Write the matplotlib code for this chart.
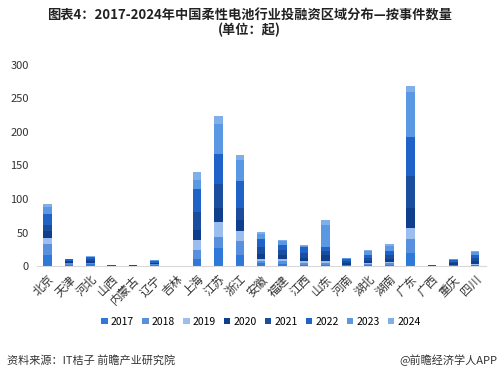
import matplotlib
matplotlib.use("Agg")
import matplotlib.pyplot as plt
import numpy as np

plt.rcParams['font.family'] = ['Noto Sans CJK SC', 'DejaVu Sans']

regions = ["北京", "天津", "河北", "山西", "内蒙古", "辽宁", "吉林", "上海", "江苏", "浙江",
           "安徽", "福建", "江西", "山东", "河南", "湖北", "湖南", "广东", "广西", "重庆", "四川"]
years = ["2017", "2018", "2019", "2020", "2021", "2022", "2023", "2024"]

v2017 = [17, 2, 3, 0, 0, 2, 0, 11, 27, 16, 4, 3, 2, 2, 1, 2, 2, 19, 0, 1, 1]
v2018 = [16, 2, 1, 0, 0, 1, 0, 13, 16, 21, 3, 4, 3, 3, 0, 1, 2, 21, 0, 0, 1]
v2019 = [9, 1, 1, 0, 0, 0, 0, 15, 23, 16, 3, 3, 2, 3, 0, 1, 2, 16, 0, 0, 1]
v2020 = [10, 2, 3, 0, 1, 1, 0, 15, 20, 16, 8, 6, 5, 8, 4, 4, 5, 31, 0, 3, 4]
v2021 = [9, 1, 3, 1, 0, 1, 0, 27, 36, 18, 10, 8, 7, 6, 3, 4, 5, 47, 2, 2, 5]
v2022 = [17, 2, 2, 0, 1, 2, 0, 34, 45, 40, 12, 7, 9, 6, 3, 5, 6, 58, 0, 3, 4]
v2023 = [10, 1, 1, 0, 0, 2, 0, 13, 45, 31, 8, 6, 2, 33, 1, 5, 8, 68, 0, 1, 5]
v2024 = [4, 0, 1, 0, 0, 0, 0, 12, 12, 8, 3, 2, 1, 7, 0, 2, 3, 8, 0, 0, 1]

series = [v2017, v2018, v2019, v2020, v2021, v2022, v2023, v2024]
colors = ["#2e78d8", "#5890dd", "#9cbeee", "#0f3f8c", "#1b4d9e", "#1f63c9", "#5b98e4", "#80aeea"]

fig = plt.figure(figsize=(4.99, 3.79), dpi=100)
ax = fig.add_axes([0.074, 0.298, 0.899, 0.531])

x = np.arange(len(regions))
bottom = np.zeros(len(regions))
for yr, vals, c in zip(years, series, colors):
    vals = np.array(vals, dtype=float)
    ax.bar(x, vals, width=0.4, bottom=bottom, color=c, label=yr, linewidth=0)
    bottom += vals

ax.set_xlim(-0.5, len(regions) - 0.5)
ax.set_ylim(0, 300)
ax.set_yticks([0, 50, 100, 150, 200, 250, 300])
ax.set_xticks(x)
ax.set_xticklabels(regions, rotation=45, ha='right', rotation_mode='anchor', fontsize=8.5, color='#333333')
ax.tick_params(axis='y', labelsize=8, colors='#333333', length=0, pad=6)
ax.tick_params(axis='x', length=0, pad=5)
for s in ['top', 'right', 'left']:
    ax.spines[s].set_visible(False)
ax.spines['bottom'].set_color('#d9d9d9')

ax.legend(loc='upper center', bbox_to_anchor=(0.5, -0.205), ncol=8, frameon=False,
          fontsize=7.5, handlelength=0.6, handleheight=0.6, handletextpad=0.3,
          columnspacing=0.8)

fig.text(0.5, 0.96, "图表4：2017-2024年中国柔性电池行业投融资区域分布—按事件数量", ha='center', va='center',
         fontsize=9.5, fontweight='bold', color='#222222')
fig.text(0.5, 0.92, "(单位：起)", ha='center', va='center', fontsize=9.5, fontweight='bold', color='#222222')

fig.text(0.014, 0.05, "资料来源：IT桔子 前瞻产业研究院", ha='left', va='center', fontsize=8, color='#333333')
fig.text(0.996, 0.05, "@前瞻经济学人APP", ha='right', va='center', fontsize=8, color='#333333')

fig.savefig("out.png", dpi=100, facecolor='white')
